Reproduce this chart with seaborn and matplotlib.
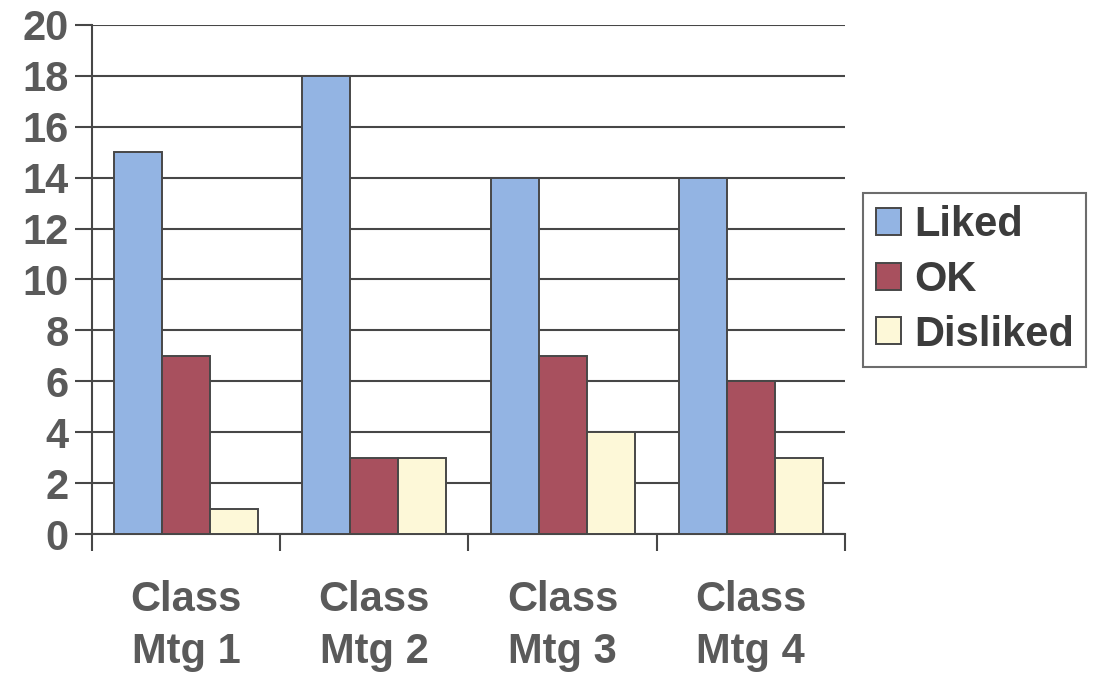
import pandas as pd
import matplotlib
matplotlib.use("Agg")
import matplotlib.pyplot as plt
import seaborn as sns

# data
meetings = ["Class\nMtg 1", "Class\nMtg 2", "Class\nMtg 3", "Class\nMtg 4"]
liked = [15, 18, 14, 14]
ok = [7, 3, 7, 6]
disliked = [1, 3, 4, 3]
series = ["Liked", "OK", "Disliked"]
y_ticks = list(range(0, 21, 2))

colors = ["#93B4E3", "#A8505E", "#FDF8D8"]
ink = "#474747"

df = pd.DataFrame({
    "meeting": meetings * 3,
    "rating": [s for s in series for _ in meetings],
    "count": liked + ok + disliked,
})

sns.set_style("white", {"xtick.bottom": True, "ytick.left": True})
plt.rcParams["font.family"] = ["Liberation Sans", "DejaVu Sans"]

fig, ax = plt.subplots(figsize=(10.93, 6.73), dpi=100)
fig.subplots_adjust(left=0.0842, right=0.773, top=0.963, bottom=0.2065)

sns.barplot(data=df, x="meeting", y="count", hue="rating", order=meetings,
            hue_order=series, palette=colors, width=0.765, gap=0,
            edgecolor=ink, linewidth=1.4, saturation=1, ax=ax, zorder=3)

ax.set_xlim(-0.5, len(meetings) - 0.5)
ax.set_ylim(0, 20)
ax.set_yticks(y_ticks)
ax.yaxis.grid(True, color=ink, linewidth=1.5, zorder=0)
ax.set_axisbelow(True)
ax.set_xlabel("")
ax.set_ylabel("")

for side in ["top", "right"]:
    ax.spines[side].set_visible(False)
for side in ["left", "bottom"]:
    ax.spines[side].set_color(ink)
    ax.spines[side].set_linewidth(1.5)

ax.tick_params(axis="y", which="major", left=True, direction="out", length=12,
               width=1.5, color=ink, pad=5, labelsize=30, labelcolor="#5a5a5a")
for t in ax.get_yticklabels():
    t.set_fontweight("bold")

# category separators as minor ticks under the axis
ax.set_xticks([i - 0.5 for i in range(len(meetings) + 1)], minor=True)
ax.tick_params(axis="x", which="minor", bottom=True, length=12, width=1.5, color=ink)
ax.tick_params(axis="x", which="major", bottom=True, length=0, pad=33,
               labelsize=30, labelcolor="#5a5a5a")
for t in ax.get_xticklabels():
    t.set_fontweight("bold")
    t.set_linespacing(1.38)

leg = ax.legend(loc="center left", bbox_to_anchor=(0.7896, 0.584),
                bbox_transform=fig.transFigure, frameon=True, fancybox=False,
                edgecolor=ink, prop={"size": 30, "weight": "bold"},
                handlelength=0.62, handleheight=0.62, handletextpad=0.3,
                labelspacing=0.35, borderpad=0.3, borderaxespad=0)
leg.get_frame().set_linewidth(1.5)
for t in leg.get_texts():
    t.set_color("#3c3c3c")

fig.savefig("out.png", dpi=100)
